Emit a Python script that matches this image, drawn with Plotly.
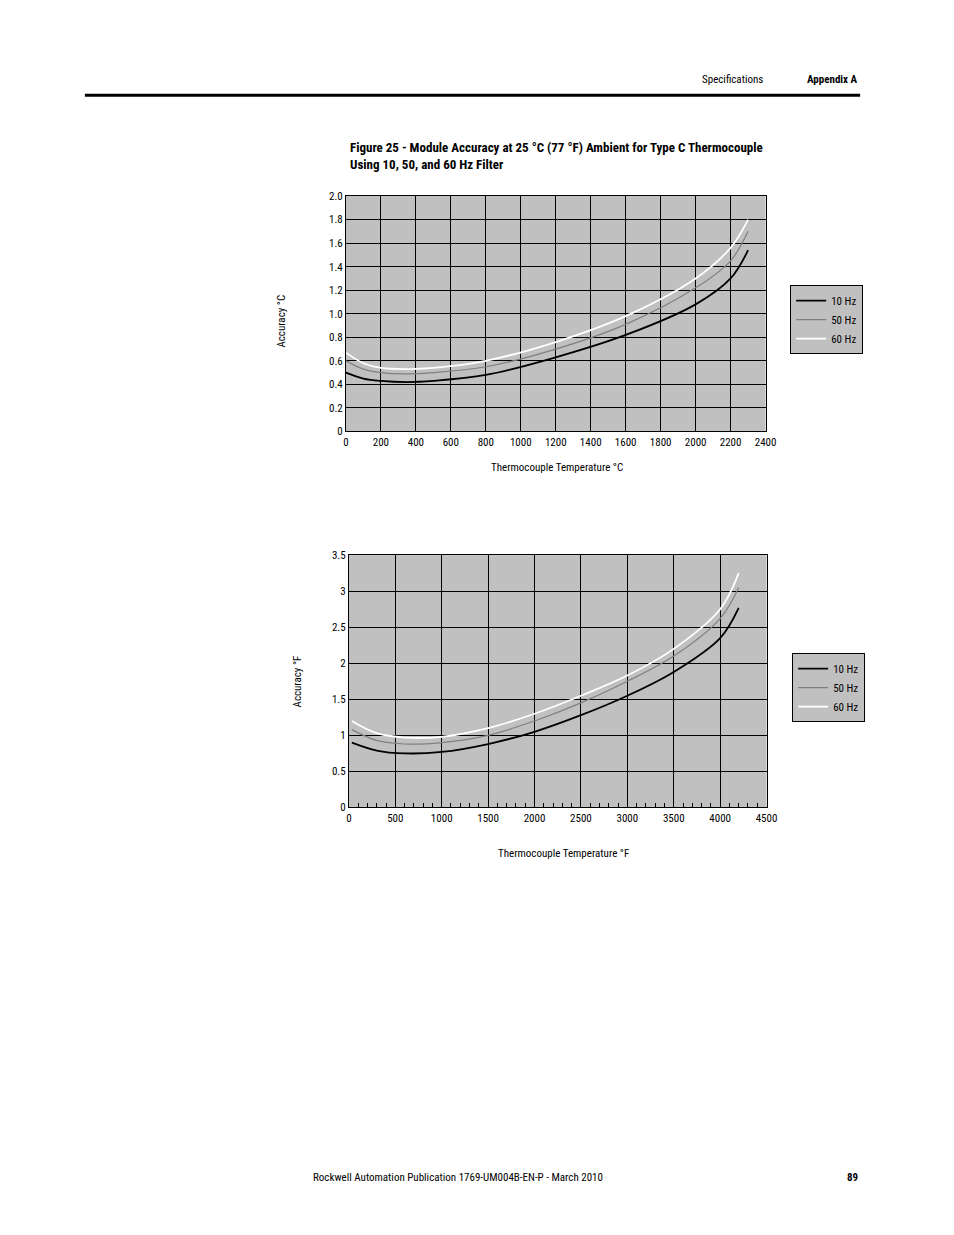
import plotly.graph_objects as go

# Top chart (°C)
c_temp = [0, 100, 200, 350, 500, 800, 1200, 1600, 2000, 2200, 2300]
c_10hz = [0.50, 0.45, 0.43, 0.42, 0.43, 0.48, 0.63, 0.82, 1.08, 1.30, 1.54]
c_50hz = [0.60, 0.53, 0.50, 0.49, 0.50, 0.55, 0.70, 0.91, 1.22, 1.45, 1.70]
c_60hz = [0.67, 0.58, 0.54, 0.53, 0.54, 0.60, 0.76, 0.98, 1.30, 1.56, 1.80]
# Bottom chart (°F)
f_temp = [32, 300, 600, 1000, 1500, 2000, 2500, 3000, 3500, 4000, 4200]
f_10hz = [0.90, 0.79, 0.75, 0.77, 0.88, 1.05, 1.28, 1.55, 1.88, 2.35, 2.77]
f_50hz = [1.08, 0.93, 0.88, 0.90, 1.00, 1.20, 1.45, 1.75, 2.10, 2.62, 3.05]
f_60hz = [1.20, 1.03, 0.97, 0.98, 1.10, 1.30, 1.55, 1.83, 2.20, 2.75, 3.25]
series = ["10 Hz", "50 Hz", "60 Hz"]
colors = ["black", "#808080", "white"]
widths = [1.8, 1.2, 1.8]

OFF = 8
W, H = 954 - 2 * OFF, 1235 - 2 * OFF
def fx(px): return (px - OFF) / W
def fy(py): return 1 - (py - OFF) / H

fig = go.Figure()
for name, ys, col, w in zip(series, [c_10hz, c_50hz, c_60hz], colors, widths):
    fig.add_trace(go.Scatter(x=c_temp, y=ys, name=name, mode="lines", line=dict(color=col, width=w, shape="spline"),
                             xaxis="x", yaxis="y", legend="legend"))
for name, ys, col, w in zip(series, [f_10hz, f_50hz, f_60hz], colors, widths):
    fig.add_trace(go.Scatter(x=f_temp, y=ys, name=name, mode="lines", line=dict(color=col, width=w, shape="spline"),
                             xaxis="x2", yaxis="y2", legend="legend2"))

FAM = "Liberation Sans Narrow, Arial Narrow, Roboto Condensed, sans-serif"
font = dict(family=FAM, size=11, color="black")
ax = dict(showline=True, linecolor="black", mirror=True, gridcolor="black", gridwidth=1, zeroline=False,
          tickfont=font, ticks="", fixedrange=True)
fig.update_layout(
    width=W, height=H, autosize=False, margin=dict(l=0, r=0, t=0, b=0), paper_bgcolor="white", plot_bgcolor="#c0c0c0",
    font=font,
    xaxis=dict(ax, domain=[fx(348), fx(774)], range=[0, 2400], dtick=200, anchor="y"),
    yaxis=dict(ax, domain=[fy(430), fy(192)], range=[0, 2.0], anchor="x",
               tickvals=[0, 0.2, 0.4, 0.6, 0.8, 1.0, 1.2, 1.4, 1.6, 1.8, 2.0],
               ticktext=["0", "0.2", "0.4", "0.6", "0.8", "1.0", "1.2", "1.4", "1.6", "1.8", "2.0"]),
    xaxis2=dict(ax, domain=[fx(351), fx(775)], range=[0, 4500], dtick=500, anchor="y2",
                ticks="inside", ticklen=5, tickcolor="black",
                minor=dict(dtick=100, ticks="inside", ticklen=4, tickcolor="black", showgrid=False)),
    yaxis2=dict(ax, domain=[fy(810), fy(555)], range=[0, 3.5], dtick=0.5, anchor="x2"),
    legend=dict(x=fx(799), y=fy(282), xanchor="left", yanchor="top", bgcolor="#c0c0c0", bordercolor="black",
                borderwidth=1, font=font, tracegroupgap=0),
    legend2=dict(x=fx(801), y=fy(654), xanchor="left", yanchor="top", bgcolor="#c0c0c0", bordercolor="black",
                 borderwidth=1, font=font, tracegroupgap=0),
    showlegend=True,
)

def txt(x, y, s, size=11, bold=False, xanchor="center", angle=0):
    fig.add_annotation(x=fx(x), y=fy(y), xref="paper", yref="paper", text=("<b>%s</b>" % s) if bold else s,
                       showarrow=False, xanchor=xanchor, yanchor="middle", textangle=angle,
                       font=dict(family=FAM, size=size, color="black"))

txt(740, 74, "Specifications", 11)
txt(870, 74, "Appendix A", 11, True, "right")
fig.add_shape(type="line", xref="paper", yref="paper", x0=fx(83), x1=fx(870), y0=fy(90), y1=fy(90),
              line=dict(color="black", width=3))
txt(350, 143, "Figure 25 - Module Accuracy at 25 °C (77 °F) Ambient for Type C Thermocouple", 13, True, "left")
txt(350, 160, "Using 10, 50, and 60 Hz Filter", 13, True, "left")
txt(562, 466, "Thermocouple Temperature °C", 11)
txt(283, 318, "Accuracy °C", 11, angle=-90)
txt(569, 857, "Thermocouple Temperature °F", 11)
txt(299, 683, "Accuracy °F", 11, angle=-90)
txt(462, 1184, "Rockwell Automation Publication 1769-UM004B-EN-P - March 2010", 11)
txt(870, 1184, "89", 11, True, "right")

fig.write_html("out.html")
